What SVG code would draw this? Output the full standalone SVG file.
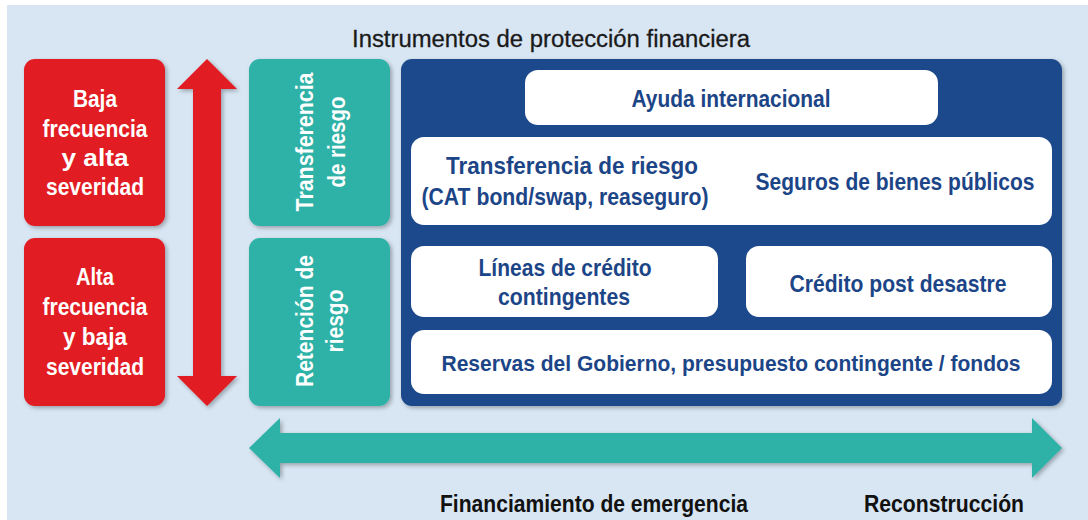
<svg xmlns="http://www.w3.org/2000/svg" width="1088" height="520" viewBox="0 0 1088 520">
<defs>
<style>
.t{font-family:"Liberation Sans",Arial,sans-serif;font-weight:bold;text-anchor:middle}
.w{fill:#ffffff;font-size:24px}
.v{fill:#ffffff;font-size:23px}
.b{fill:#1c4587;font-size:24px}
.k{fill:#111111;font-size:24px}
.red{fill:#e11b24}
.teal{fill:#2fb1a6}
.wb{fill:#ffffff}
</style>
<filter id="sh" x="-10%" y="-10%" width="130%" height="130%">
<feDropShadow dx="2" dy="2" stdDeviation="2" flood-color="#000" flood-opacity="0.3"/>
</filter>
</defs>
<rect x="0" y="0" width="1088" height="520" fill="#ffffff"/>
<rect x="7" y="5" width="1081" height="515" fill="#d8e6f3"/>
<text x="551" y="47" class="t" style="font-weight:normal;font-size:23.5px;fill:#1a1a1a;stroke:#1a1a1a;stroke-width:0.3" textLength="398" lengthAdjust="spacingAndGlyphs">Instrumentos de protección financiera</text>

<g id="connectors">
<path class="red" filter="url(#sh)" d="M207,59 L237,89 L221,89 L221,376 L237,376 L207,406 L177,376 L193,376 L193,89 L177,89 Z"/>
<path class="teal" filter="url(#sh)" d="M249,448 L280,418 L280,433 L1032,433 L1032,418 L1062,448 L1032,478 L1032,463 L280,463 L280,478 Z"/>
</g>

<g id="baja">
<rect class="red" filter="url(#sh)" x="24" y="59" width="141" height="167" rx="11"/>
<text class="t w" x="95" y="107" textLength="44" lengthAdjust="spacingAndGlyphs">Baja</text>
<text class="t w" x="95" y="137" textLength="105" lengthAdjust="spacingAndGlyphs">frecuencia</text>
<text class="t w" x="95" y="166" textLength="67" lengthAdjust="spacingAndGlyphs">y alta</text>
<text class="t w" x="95" y="195" textLength="98" lengthAdjust="spacingAndGlyphs">severidad</text>
</g>
<g id="alta">
<rect class="red" filter="url(#sh)" x="24" y="238" width="141" height="168" rx="11"/>
<text class="t w" x="95" y="285" textLength="38" lengthAdjust="spacingAndGlyphs">Alta</text>
<text class="t w" x="95" y="315" textLength="105" lengthAdjust="spacingAndGlyphs">frecuencia</text>
<text class="t w" x="95" y="345" textLength="64" lengthAdjust="spacingAndGlyphs">y baja</text>
<text class="t w" x="95" y="375" textLength="98" lengthAdjust="spacingAndGlyphs">severidad</text>
</g>

<g id="transferencia">
<rect class="teal" filter="url(#sh)" x="249" y="59" width="141" height="167" rx="11"/>
<text class="t v" transform="translate(313,142) rotate(-90)" x="0" y="0" textLength="139" lengthAdjust="spacingAndGlyphs">Transferencia</text>
<text class="t v" transform="translate(345,142) rotate(-90)" x="0" y="0" textLength="91" lengthAdjust="spacingAndGlyphs">de riesgo</text>
</g>
<g id="retencion">
<rect class="teal" filter="url(#sh)" x="249" y="238" width="141" height="168" rx="11"/>
<text class="t v" transform="translate(313,321) rotate(-90)" x="0" y="0" textLength="132" lengthAdjust="spacingAndGlyphs">Retención de</text>
<text class="t v" transform="translate(343,321) rotate(-90)" x="0" y="0" textLength="63" lengthAdjust="spacingAndGlyphs">riesgo</text>
</g>

<g id="panel">
<rect x="401" y="59" width="661" height="347" rx="11" fill="#1b4a8b" filter="url(#sh)"/>
</g>
<g id="ayuda">
<rect class="wb" x="525" y="70" width="413" height="55" rx="13"/>
<text class="t b" x="731" y="107" textLength="199" lengthAdjust="spacingAndGlyphs">Ayuda internacional</text>
</g>
<g id="transfer-seguros">
<rect class="wb" x="411" y="137" width="641" height="88" rx="13"/>
<text class="t b" x="572" y="174" textLength="252" lengthAdjust="spacingAndGlyphs">Transferencia de riesgo</text>
<text class="t b" x="565" y="205" textLength="287" lengthAdjust="spacingAndGlyphs">(CAT bond/swap, reaseguro)</text>
<text class="t b" x="895" y="190" textLength="279" lengthAdjust="spacingAndGlyphs">Seguros de bienes públicos</text>
</g>
<g id="lineas">
<rect class="wb" x="411" y="246" width="307" height="71" rx="13"/>
<text class="t b" x="565" y="276" textLength="173" lengthAdjust="spacingAndGlyphs">Líneas de crédito</text>
<text class="t b" x="564" y="305" textLength="132" lengthAdjust="spacingAndGlyphs">contingentes</text>
</g>
<g id="credito">
<rect class="wb" x="746" y="246" width="306" height="71" rx="13"/>
<text class="t b" x="898" y="292" textLength="217" lengthAdjust="spacingAndGlyphs">Crédito post desastre</text>
</g>
<g id="reservas">
<rect class="wb" x="411" y="330" width="641" height="64" rx="13"/>
<text class="t b" x="731" y="371" style="font-size:22px" textLength="579" lengthAdjust="spacingAndGlyphs">Reservas del Gobierno, presupuesto contingente / fondos</text>
</g>

<text class="t k" x="594" y="512" textLength="308" lengthAdjust="spacingAndGlyphs">Financiamiento de emergencia</text>
<text class="t k" x="944" y="512" textLength="160" lengthAdjust="spacingAndGlyphs">Reconstrucción</text>
</svg>
